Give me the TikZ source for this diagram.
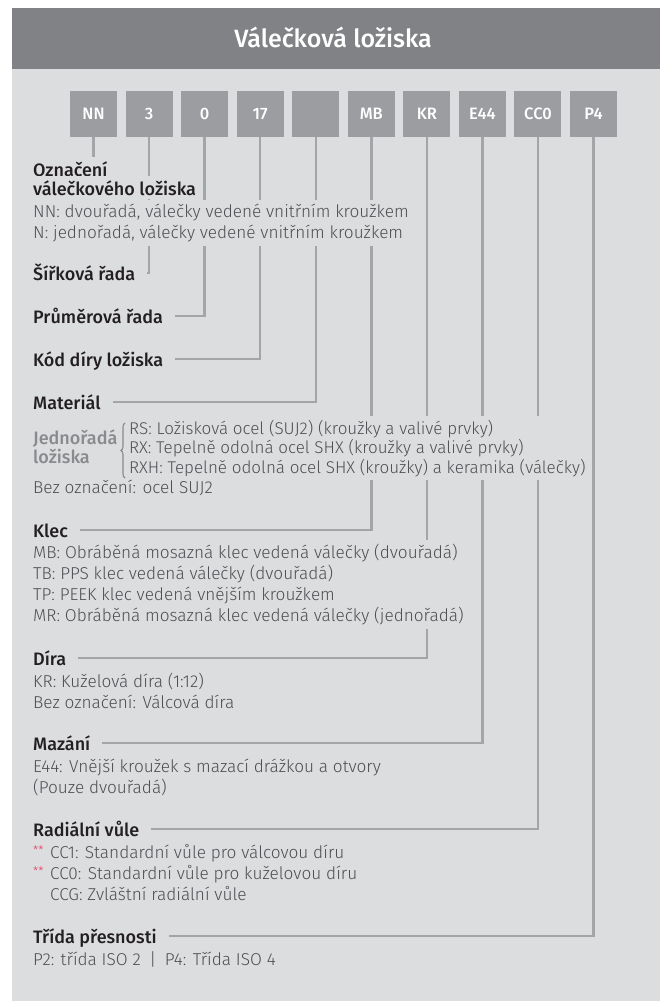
\documentclass[tikz,border=0pt]{standalone}
\usepackage{fontspec}
\setmainfont{Fira Sans}
\newfontfamily\lightfont{Fira Sans Light}
\newfontfamily\midfont{Fira Sans Medium}
\usetikzlibrary{decorations.pathreplacing}
\definecolor{headgray}{HTML}{818285}
\definecolor{panelgray}{HTML}{DCDDDF}
\definecolor{boxgray}{HTML}{9C9DA0}
\definecolor{linegray}{HTML}{A4A5A8}
\definecolor{inkdark}{HTML}{231F20}
\definecolor{inkdesc}{HTML}{4E4F52}
\definecolor{inkmid}{HTML}{898A8D}
\definecolor{starred}{HTML}{E8335A}
\newcommand{\stars}{\makebox[17pt][l]{\raisebox{4pt}{\color{starred}\fontsize{12}{12}\selectfont **}}}
\pgfdeclarelayer{bg}
\pgfdeclarelayer{lines}
\pgfsetlayers{bg,lines,main}

\begin{document}
\begin{tikzpicture}[x=1pt, y=-1pt,
  codebox/.style={fill=boxgray, text=white, font=\midfont\fontsize{16.5}{16}\selectfont,
    minimum width=47pt, minimum height=46pt, inner sep=0pt},
  headtxt/.style={anchor=base west, text=inkdark, font=\midfont\fontsize{18}{19}\selectfont,
    fill=panelgray, inner xsep=4pt, inner ysep=4pt},
  desctxt/.style={anchor=base west, align=left, text=inkdesc, font=\lightfont\fontsize{17.2}{21}\selectfont,
    fill=panelgray, inner xsep=4pt, inner ysep=4pt},
  conn/.style={draw=linegray, line width=2.4pt}]
\useasboundingbox (0,0) rectangle (660,1001);
\begin{pgfonlayer}{bg}
  \fill[panelgray] (12,8) rectangle (660,1001);
  \fill[headgray] (12,8) rectangle (660,69);
\end{pgfonlayer}
\node[anchor=base, text=white, font=\midfont\fontsize{25}{26}\selectfont] (title) at (333,47) {Válečková ložiska};
% code boxes
\foreach \n/\t [count=\i from 0] in {cNN/NN, cW/3, cD/0, cB/17, cM/{}, cK/MB, cH/KR, cL/E44, cR/CC0, cP/P4}
  \node[codebox] (\n) at (93.5+55.56*\i,114) {\t};
% descriptions (multi-line nodes sit on their last baseline)
\node[desctxt] (dO) at (29,238) {NN: dvouřadá, válečky vedené vnitřním kroužkem\\N: jednořadá, válečky vedené vnitřním kroužkem};
\node[desctxt, font=\lightfont\fontsize{17}{19.5}\selectfont, inner xsep=1pt] (dM) at (128,473) {RS: Ložisková ocel (SUJ2) (kroužky a valivé prvky)\\RX: Tepelně odolná ocel SHX (kroužky a valivé prvky)\\RXH: Tepelně odolná ocel SHX (kroužky) a keramika (válečky)};
\node[desctxt] (dM2) at (29,493) {Bez označení: ocel SUJ2};
\node[desctxt] (dK) at (29,621) {MB: Obráběná mosazná klec vedená válečky (dvouřadá)\\TB: PPS klec vedená válečky (dvouřadá)\\TP: PEEK klec vedená vnějším kroužkem\\MR: Obráběná mosazná klec vedená válečky (jednořadá)};
\node[desctxt] (dH) at (29,708) {KR: Kuželová díra (1:12)\\Bez označení: Válcová díra};
\node[desctxt] (dL) at (29,793) {E44: Vnější kroužek s mazací drážkou a otvory\\(Pouze dvouřadá)};
\node[desctxt] (dR) at (29,900) {\stars CC1: Standardní vůle pro válcovou díru\\\stars CC0: Standardní vůle pro kuželovou díru\\\hspace*{17pt}CCG: Zvláštní radiální vůle};
\node[desctxt] (dP) at (29,965) {P2: třída ISO 2\enspace|\enspace P4: Třída ISO 4};
% headings
\node[headtxt] (hO1) at (29,176) {Označení};
\node[headtxt] (hO2) at (29,195) {válečkového ložiska};
\node[headtxt] (hW) at (29,280) {Šířková řada};
\node[headtxt] (hD) at (29,323) {Průměrová řada};
\node[headtxt] (hB) at (29,366) {Kód díry ložiska};
\node[headtxt] (hM) at (29,409) {Materiál};
\node[headtxt, align=left, text=inkmid, font=\midfont\fontsize{18}{16}\selectfont] (jl) at (29,463) {Jednořadá\\ložiska};
\node[headtxt] (hK) at (29,537) {Klec};
\node[headtxt] (hH) at (29,665) {Díra};
\node[headtxt] (hL) at (29,750) {Mazání};
\node[headtxt] (hR) at (29,836) {Radiální vůle};
\node[headtxt] (hP) at (29,943) {Třída přesnosti};
\draw[inkmid, line width=1.1pt, decorate, decoration={brace, amplitude=4pt}] (125,478) -- (125,423);
% connectors
\begin{pgfonlayer}{lines}
  \draw[conn] (cNN.south) -- (cNN.south |- hO1.north);
  \draw[conn] (cW.south) |- ([xshift=8pt,yshift=7pt]hW.base east);
  \draw[conn] (cD.south) |- ([xshift=8pt,yshift=7pt]hD.base east);
  \draw[conn] (cB.south) |- ([xshift=8pt,yshift=7pt]hB.base east);
  \draw[conn] (cM.south) |- ([xshift=8pt,yshift=7pt]hM.base east);
  \draw[conn] (cK.south) |- ([xshift=8pt,yshift=7pt]hK.base east);
  \draw[conn] (cH.south) |- ([xshift=8pt,yshift=7pt]hH.base east);
  \draw[conn] (cL.south) |- ([xshift=8pt,yshift=7pt]hL.base east);
  \draw[conn] (cR.south) |- ([xshift=8pt,yshift=7pt]hR.base east);
  \draw[conn] (cP.south) |- ([xshift=8pt,yshift=7pt]hP.base east);
\end{pgfonlayer}
\end{tikzpicture}
\end{document}
